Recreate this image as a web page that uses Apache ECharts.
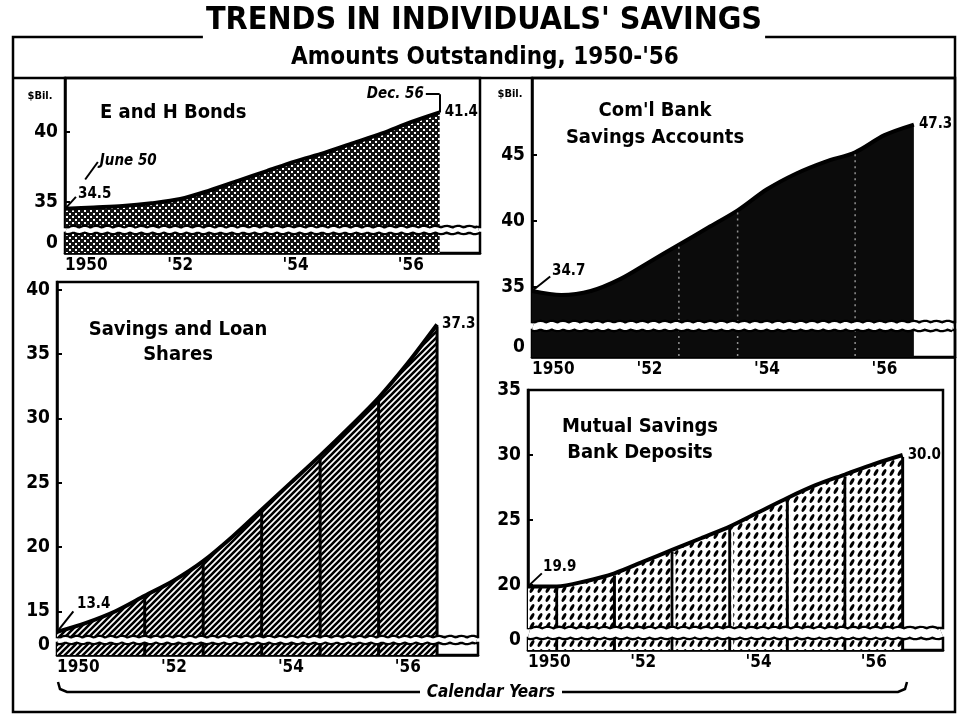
<!DOCTYPE html>
<html><head><meta charset="utf-8">
<script src="https://cdn.jsdelivr.net/npm/echarts@6/dist/echarts.min.js"></script>
<style>html,body{margin:0;padding:0;background:#fff}#c{width:959px;height:718px}</style>
</head><body><div id="c"></div>
<script>
// ---------- DATA ----------
const periods = [1950.5,1951.0,1951.5,1952.0,1952.5,1953.0,1953.5,1954.0,1954.5,1955.0,1955.5,1956.0,1956.5,1957.0];
const ehBonds       = [34.5,34.6,34.7,34.9,35.2,35.8,36.5,37.2,37.9,38.5,39.2,39.9,40.7,41.4];
const comlBank      = [34.7,34.4,34.7,35.6,36.9,38.2,39.5,40.8,42.4,43.6,44.5,45.2,46.5,47.3];
const savingsLoan   = [13.4,14.1,15.0,16.2,17.4,18.9,20.8,22.9,25.0,27.1,29.3,31.6,34.3,37.3];
const mutualSavings = [19.9,19.9,20.3,20.9,21.8,22.7,23.6,24.5,25.6,26.7,27.7,28.5,29.3,30.0];
const xTickValues = [1950.5, 1952.5, 1954.5, 1956.5];
const xTickLabels = ['1950', "'52", "'54", "'56"];
const ehTicks = [35, 40];
const comlTicks = [35, 40, 45];
const slTicks = [15, 20, 25, 30, 35, 40];
const msTicks = [20, 25, 30, 35];
const slSeparators = [1952, 1953, 1954, 1955, 1956, 1957];
const msSeparators = [1951, 1952, 1953, 1954, 1955, 1956, 1957];
const comlSeparators = [1953, 1954, 1956];

const F = "'DejaVu Sans Condensed','DejaVu Sans',sans-serif";

// ---------- patterns ----------
function mk(w, h, draw) { const c = document.createElement('canvas'); c.width = w; c.height = h; const g = c.getContext('2d'); draw(g, w, h); return { image: c, repeat: 'repeat' }; }
const patEH = mk(6, 6, (g) => { g.fillStyle = '#111'; g.fillRect(0,0,6,6); g.fillStyle = '#fff'; g.fillRect(0,0,2,2); g.fillRect(3,3,2,2); });
const patCB = mk(8, 8, (g) => { g.fillStyle = '#0b0b0b'; g.fillRect(0,0,8,8); });
const patSL = mk(6, 6, (g) => { g.fillStyle = '#fff'; g.fillRect(0,0,6,6); g.strokeStyle = '#000'; g.lineWidth = 2.6; g.beginPath();
  g.moveTo(-3,3); g.lineTo(3,-3); g.moveTo(0,6); g.lineTo(6,0); g.moveTo(3,9); g.lineTo(9,3); g.stroke(); });
const patMS = mk(8, 9, (g) => { g.fillStyle = '#fff'; g.fillRect(0,0,8,9); g.fillStyle = '#000'; g.beginPath(); g.ellipse(4, 4.5, 3.7, 1.7, -Math.PI/3, 0, Math.PI*2); g.fill(); });

// ---------- layout ----------
const panels = [
  { vals: ehBonds, pat: patEH, up: {left:65, top:78, width:415, height:149}, lo: {left:65, top:233, width:415, height:20}, ymin: 33.2, ymax: 43.86, ticks: ehTicks,
    lead: [0.19, 0.86], lab: [8, -15], seps: [], sepColor: '#000', sepW: 0 },
  { vals: comlBank, pat: patCB, up: {left:532, top:78, width:423, height:244}, lo: {left:532, top:330, width:423, height:27}, ymin: 32.35, ymax: 50.83, ticks: comlTicks,
    lead: [0.31, 1.1], lab: [15, -20], seps: comlSeparators, sepColor: 'rgba(255,255,255,0.55)', sepW: 1.5, dash: [2,4] },
  { vals: savingsLoan, pat: patSL, up: {left:57, top:282, width:421, height:355}, lo: {left:57, top:643, width:421, height:12}, ymin: 13.0, ymax: 40.6, ticks: slTicks,
    lead: [0.28, 1.6], lab: [15, -28], seps: slSeparators, sepColor: '#000', sepW: 3 },
  { vals: mutualSavings, pat: patMS, up: {left:528, top:390, width:415, height:238}, lo: {left:528, top:638, width:415, height:12}, ymin: 16.7, ymax: 35, ticks: msTicks,
    lead: [0.24, 1.0], lab: [10, -19], seps: msSeparators, sepColor: '#000', sepW: 3 }
];

const grid = [], xAxis = [], yAxis = [], series = [];
const XMIN = 1950.5, XMAX = 1957.7;
const labStyle = { color: '#000', fontFamily: F, fontWeight: 'bold', fontSize: 15 };
panels.forEach((p, i) => {
  const gu = i * 2, gl = i * 2 + 1;
  const pts = periods.map((x, k) => [x, p.vals[k]]);
  grid.push(Object.assign({ show: true, borderColor: '#000', borderWidth: 2.5, backgroundColor: '#fff', containLabel: false }, p.up));
  grid.push(Object.assign({ show: true, borderColor: '#000', borderWidth: 2.5, backgroundColor: '#fff', containLabel: false }, p.lo));
  xAxis.push({ type: 'value', gridIndex: gu, min: XMIN, max: XMAX, show: false });
  xAxis.push({ type: 'value', gridIndex: gl, min: XMIN, max: XMAX, splitLine: { show: false },
    axisLine: { show: true, onZero: false, lineStyle: { color: '#000', width: 2.5 } }, axisTick: { show: false },
    axisLabel: { customValues: xTickValues, formatter: (v) => xTickLabels[xTickValues.indexOf(v)] || '', alignMinLabel: 'left',
      color: '#000', fontFamily: F, fontWeight: 'bold', fontSize: 17, margin: 4 } });
  yAxis.push({ type: 'value', gridIndex: gu, min: p.ymin, max: p.ymax, splitLine: { show: false },
    axisLine: { show: true, lineStyle: { color: '#000', width: 2.5 } },
    axisTick: { show: true, inside: true, length: 5, customValues: p.ticks, lineStyle: { color: '#000', width: 2 } },
    axisLabel: { customValues: p.ticks, color: '#000', fontFamily: F, fontWeight: 'bold', fontSize: 19, margin: 7 } });
  yAxis.push({ type: 'value', gridIndex: gl, min: 0, max: 1, splitLine: { show: false },
    axisLine: { show: true, lineStyle: { color: '#000', width: 2.5 } }, axisTick: { show: false },
    axisLabel: { customValues: [0], color: '#000', fontFamily: F, fontWeight: 'bold', fontSize: 19, margin: 7, verticalAlign: 'bottom' } });

  const x0 = periods[0], v0 = p.vals[0];
  const xe = periods[periods.length - 1], ve = p.vals[p.vals.length - 1];
  const markData = [[{ coord: [x0, v0] }, { coord: [x0 + p.lead[0], v0 + p.lead[1]] }]];
  const pointData = [{ coord: [x0, v0], label: { formatter: v0.toFixed(1), offset: p.lab } }];
  if (i === 0) {
    markData.push([{ coord: [1950.85, 36.6] }, { coord: [1951.07, 37.85] }]);
    pointData.push({ coord: [1951.07, 37.85], label: { formatter: 'June 50', fontStyle: 'italic', offset: [-3, -1] } });
    markData.push([{ coord: [xe, ve] }, { coord: [xe, ve + 1.3] }]);
    markData.push([{ coord: [xe, ve + 1.3] }, { coord: [xe - 0.24, ve + 1.3] }]);
    pointData.push({ coord: [xe - 0.24, ve + 1.3], label: { formatter: 'Dec. 56', fontStyle: 'italic', position: 'left', offset: [3, 0] } });
  }
  series.push({ type: 'line', xAxisIndex: gu, yAxisIndex: gu, data: pts, smooth: 0.3, symbol: 'none', clip: true, z: 2,
    lineStyle: { color: '#000', width: 4 }, areaStyle: { color: p.pat, opacity: 1, origin: 'start' },
    endLabel: Object.assign({ show: true, formatter: (q) => q.value[1].toFixed(1), distance: 5 }, labStyle),
    markLine: { silent: true, symbol: ['none', 'none'], animation: false, lineStyle: { color: '#000', width: 2, type: 'solid' }, label: { show: false }, data: markData },
    markPoint: { silent: true, symbol: 'circle', symbolSize: 0, animation: false, label: Object.assign({ show: true, position: 'right', distance: 5 }, labStyle), data: pointData } });
  series.push({ type: 'line', xAxisIndex: gl, yAxisIndex: gl, data: pts, smooth: 0.3, symbol: 'none', clip: true, z: 2,
    lineStyle: { width: 0 }, areaStyle: { color: p.pat, opacity: 1, origin: 'start' } });
  if (p.seps.length) {
    [gu, gl].forEach((gi) => {
      series.push({ type: 'custom', xAxisIndex: gi, yAxisIndex: gi, silent: true, clip: true, z: 3,
        data: p.seps.map((yr) => [yr, p.vals[periods.indexOf(yr)]]),
        renderItem: (params, api) => {
          const cs = params.coordSys;
          const c = api.coord([api.value(0), api.value(1)]);
          const top = Math.max(c[1] + 2, cs.y);
          const els = [{ type: 'line', shape: { x1: c[0], y1: top, x2: c[0], y2: cs.y + cs.height }, style: { stroke: p.sepColor, lineWidth: p.sepW, lineDash: p.dash || null } }];
          if (i === 3 && api.value(0) < 1957) els.push({ type: 'line', shape: { x1: c[0] + 2.5, y1: top + 2, x2: c[0] + 2.5, y2: cs.y + cs.height }, style: { stroke: '#fff', lineWidth: 2 } });
          return { type: 'group', children: els };
        } });
    });
  }
});

const txt = (x, y, text, size, extra) => ({ type: 'text', x, y, z: 50, style: Object.assign({ text, fill: '#000', font: `bold ${size}px ${F}`, align: 'center', verticalAlign: 'middle' }, extra || {}) });

// wavy axis-break bands between the upper and lower part of each panel
function wave(p) {
  const y0 = (p.up.top + p.up.height + p.lo.top) / 2, gap = p.lo.top - (p.up.top + p.up.height);
  const pts = [];
  for (let x = p.up.left + 1; x <= p.up.left + p.up.width - 1; x += 1.5) pts.push([x, y0 + 0.8 * Math.sin((x - p.up.left) / 1.8)]);
  return [
    { type: 'polyline', z: 30, silent: true, shape: { points: pts }, style: { fill: 'none', stroke: '#000', lineWidth: gap + 3 } },
    { type: 'polyline', z: 31, silent: true, shape: { points: pts }, style: { fill: 'none', stroke: '#fff', lineWidth: gap - 1.5 } }
  ];
}

const graphic = [
  { type: 'rect', z: 40, shape: { x: 13, y: 37, width: 942, height: 675 }, style: { fill: 'none', stroke: '#000', lineWidth: 2.5 } },
  { type: 'line', z: 40, shape: { x1: 13, y1: 78, x2: 955, y2: 78 }, style: { stroke: '#000', lineWidth: 2.5 } },
  { type: 'text', x: 484, y: 21, z: 50, style: { text: "TRENDS IN INDIVIDUALS' SAVINGS", fill: '#000', font: `bold 32px ${F}`, align: 'center', verticalAlign: 'middle', backgroundColor: '#fff', padding: [4, 3, 4, 3] } },
  txt(485, 58, "Amounts Outstanding, 1950-'56", 24),
  txt(40, 96, '$Bil.', 11),
  txt(510, 94, '$Bil.', 11),
  txt(100, 113, 'E and H Bonds', 20, { align: 'left' }),
  txt(655, 111, "Com'l Bank", 20),
  txt(655, 138, 'Savings Accounts', 20),
  txt(178, 330, 'Savings and Loan', 20),
  txt(178, 355, 'Shares', 20),
  txt(640, 427, 'Mutual Savings', 20),
  txt(640, 453, 'Bank Deposits', 20),
  { type: 'polyline', z: 40, shape: { points: [[58, 682], [60, 689], [67, 692], [420, 692]] }, style: { fill: 'none', stroke: '#000', lineWidth: 2.5 } },
  { type: 'polyline', z: 40, shape: { points: [[562, 692], [898, 692], [905, 689], [907, 682]] }, style: { fill: 'none', stroke: '#000', lineWidth: 2.5 } },
  txt(491, 693, 'Calendar Years', 17, { font: `italic bold 17px ${F}` })
];
panels.forEach((p) => graphic.push(...wave(p)));

const chart = echarts.init(document.getElementById('c'), null, { renderer: 'canvas' });
chart.setOption({ animation: false, backgroundColor: '#fff', grid, xAxis, yAxis, series, graphic });
</script></body></html>
